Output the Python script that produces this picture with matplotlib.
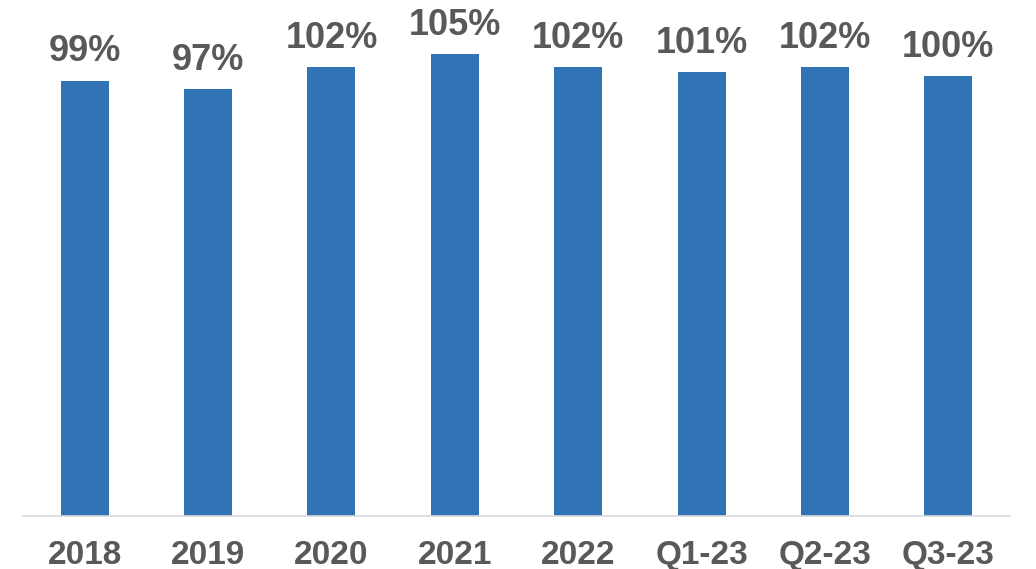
import matplotlib.pyplot as plt
import numpy as np

# data
periods = ['2018', '2019', '2020', '2021', '2022', 'Q1-23', 'Q2-23', 'Q3-23']
values = [99, 97, 102, 105, 102, 101, 102, 100]

bar_color = '#3174B5'
text_color = '#595959'

plt.rcParams['font.family'] = ['Liberation Sans', 'DejaVu Sans']

fig = plt.figure(figsize=(10.36, 5.69), dpi=100)
ax = fig.add_axes([23/1036, 53/569, 987/1036, 516/569])

x = np.arange(len(periods))
bars = ax.bar(x, values, width=0.39, color=bar_color)

for xi, v in zip(x, values):
    ax.annotate(f'{v}%', (xi, v), xytext=(0, 8), textcoords='offset points',
                ha='center', va='bottom', fontsize=26, fontweight='bold',
                color=text_color)

ax.set_xlim(-0.5, len(periods) - 0.5)
ax.set_ylim(0, 117.3)
ax.set_xticks(x)
ax.set_xticklabels(periods, fontsize=24, fontweight='bold', color=text_color)
ax.tick_params(axis='x', length=0, pad=17)
ax.set_yticks([])

for side in ['top', 'right', 'left']:
    ax.spines[side].set_visible(False)
ax.spines['bottom'].set_color('#D9D9D9')
ax.spines['bottom'].set_linewidth(1.2)

fig.savefig('out.png', dpi=100)
